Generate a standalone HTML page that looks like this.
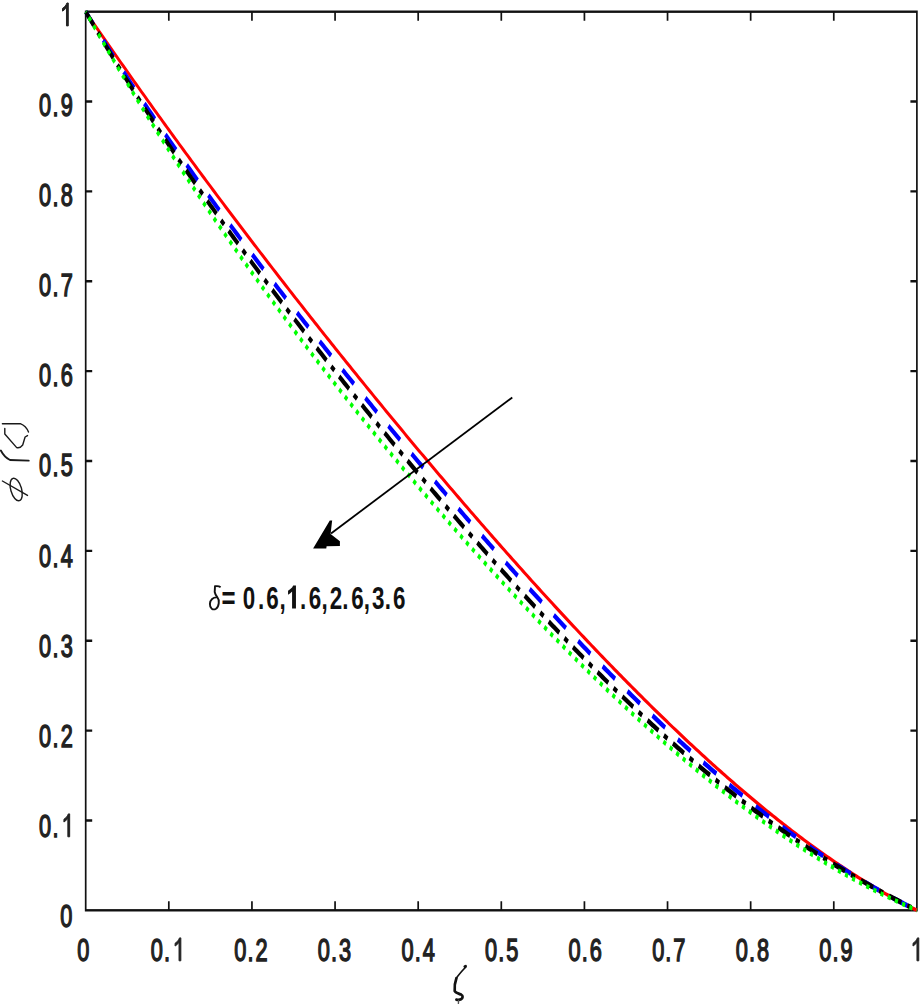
<!DOCTYPE html>
<html><head><meta charset="utf-8"><style>
html,body{margin:0;padding:0;background:#fff;width:921px;height:1004px;overflow:hidden}
svg{display:block}
text{font-family:"Liberation Sans", sans-serif;}
</style></head><body>
<svg width="921" height="1004" viewBox="0 0 921 1004">
<rect width="921" height="1004" fill="#fff"/>
<g transform="scale(0.71,1)">
<g fill="none" stroke="#111" stroke-width="2.4">
<rect x="120.70" y="11.7" width="1170.70" height="898.60"/>
<path d="M237.77,910.3 V901.3 M237.77,11.7 V20.7 M120.70,820.44 h9.15 M1291.41,820.44 h-9.15 M354.85,910.3 V901.3 M354.85,11.7 V20.7 M120.70,730.58 h9.15 M1291.41,730.58 h-9.15 M471.92,910.3 V901.3 M471.92,11.7 V20.7 M120.70,640.72 h9.15 M1291.41,640.72 h-9.15 M588.99,910.3 V901.3 M588.99,11.7 V20.7 M120.70,550.86 h9.15 M1291.41,550.86 h-9.15 M706.06,910.3 V901.3 M706.06,11.7 V20.7 M120.70,461.00 h9.15 M1291.41,461.00 h-9.15 M823.13,910.3 V901.3 M823.13,11.7 V20.7 M120.70,371.14 h9.15 M1291.41,371.14 h-9.15 M940.20,910.3 V901.3 M940.20,11.7 V20.7 M120.70,281.28 h9.15 M1291.41,281.28 h-9.15 M1057.27,910.3 V901.3 M1057.27,11.7 V20.7 M120.70,191.42 h9.15 M1291.41,191.42 h-9.15 M1174.34,910.3 V901.3 M1174.34,11.7 V20.7 M120.70,101.56 h9.15 M1291.41,101.56 h-9.15"/>
</g>
<g fill="none" stroke-linejoin="round">
<path d="M120.70,11.70 L123.64,14.75 L126.57,17.80 L129.51,20.84 L132.44,23.88 L135.37,26.91 L138.31,29.94 L141.24,32.96 L144.18,35.98 L147.11,38.99 L150.05,42.00 L152.98,45.00 L155.91,48.00 L158.85,51.00 L161.78,53.98 L164.72,56.97 L167.65,59.95 L170.58,62.92 L173.52,65.89 L176.45,68.86 L179.39,71.82 L182.32,74.77 L185.25,77.73 L188.19,80.67 L191.12,83.62 L194.06,86.55 L196.99,89.49 L199.92,92.42 L202.86,95.34 L205.79,98.26 L208.73,101.18 L211.66,104.09 L214.60,107.00 L217.53,109.91 L220.46,112.81 L223.40,115.70 L226.33,118.59 L229.27,121.48 L232.20,124.36 L235.13,127.24 L238.07,130.12 L241.00,132.99 L243.94,135.86 L246.87,138.72 L249.80,141.58 L252.74,144.44 L255.67,147.29 L258.61,150.14 L261.54,152.98 L264.47,155.82 L267.41,158.66 L270.34,161.49 L273.28,164.32 L276.21,167.14 L279.15,169.96 L282.08,172.78 L285.01,175.60 L287.95,178.41 L290.88,181.21 L293.82,184.02 L296.75,186.82 L299.68,189.61 L302.62,192.41 L305.55,195.19 L308.49,197.98 L311.42,200.76 L314.35,203.54 L317.29,206.32 L320.22,209.09 L323.16,211.86 L326.09,214.62 L329.03,217.38 L331.96,220.14 L334.89,222.89 L337.83,225.65 L340.76,228.39 L343.70,231.14 L346.63,233.88 L349.56,236.62 L352.50,239.35 L355.43,242.08 L358.37,244.81 L361.30,247.54 L364.23,250.26 L367.17,252.98 L370.10,255.69 L373.04,258.40 L375.97,261.11 L378.90,263.82 L381.84,266.52 L384.77,269.22 L387.71,271.92 L390.64,274.61 L393.58,277.30 L396.51,279.99 L399.44,282.67 L402.38,285.35 L405.31,288.03 L408.25,290.71 L411.18,293.38 L414.11,296.05 L417.05,298.71 L419.98,301.37 L422.92,304.03 L425.85,306.69 L428.78,309.34 L431.72,311.99 L434.65,314.64 L437.59,317.29 L440.52,319.93 L443.45,322.57 L446.39,325.20 L449.32,327.84 L452.26,330.47 L455.19,333.09 L458.13,335.72 L461.06,338.34 L463.99,340.95 L466.93,343.57 L469.86,346.18 L472.80,348.79 L475.73,351.40 L478.66,354.00 L481.60,356.60 L484.53,359.20 L487.47,361.79 L490.40,364.38 L493.33,366.97 L496.27,369.56 L499.20,372.14 L502.14,374.72 L505.07,377.30 L508.00,379.87 L510.94,382.44 L513.87,385.01 L516.81,387.58 L519.74,390.14 L522.68,392.70 L525.61,395.26 L528.54,397.81 L531.48,400.36 L534.41,402.91 L537.35,405.45 L540.28,407.99 L543.21,410.53 L546.15,413.07 L549.08,415.60 L552.02,418.13 L554.95,420.66 L557.88,423.19 L560.82,425.71 L563.75,428.23 L566.69,430.74 L569.62,433.25 L572.55,435.76 L575.49,438.27 L578.42,440.77 L581.36,443.27 L584.29,445.77 L587.23,448.27 L590.16,450.76 L593.09,453.25 L596.03,455.73 L598.96,458.21 L601.90,460.69 L604.83,463.17 L607.76,465.64 L610.70,468.11 L613.63,470.58 L616.57,473.04 L619.50,475.51 L622.43,477.96 L625.37,480.42 L628.30,482.87 L631.24,485.32 L634.17,487.76 L637.11,490.21 L640.04,492.65 L642.97,495.08 L645.91,497.51 L648.84,499.94 L651.78,502.37 L654.71,504.79 L657.64,507.21 L660.58,509.63 L663.51,512.04 L666.45,514.45 L669.38,516.86 L672.31,519.26 L675.25,521.66 L678.18,524.06 L681.12,526.45 L684.05,528.84 L686.98,531.23 L689.92,533.61 L692.85,535.99 L695.79,538.37 L698.72,540.74 L701.66,543.11 L704.59,545.48 L707.52,547.84 L710.46,550.20 L713.39,552.56 L716.33,554.91 L719.26,557.26 L722.19,559.60 L725.13,561.94 L728.06,564.28 L731.00,566.62 L733.93,568.95 L736.86,571.27 L739.80,573.60 L742.73,575.92 L745.67,578.23 L748.60,580.54 L751.53,582.85 L754.47,585.16 L757.40,587.46 L760.34,589.75 L763.27,592.05 L766.21,594.33 L769.14,596.62 L772.07,598.90 L775.01,601.18 L777.94,603.45 L780.88,605.72 L783.81,607.99 L786.74,610.25 L789.68,612.50 L792.61,614.76 L795.55,617.01 L798.48,619.25 L801.41,621.49 L804.35,623.73 L807.28,625.96 L810.22,628.19 L813.15,630.41 L816.08,632.63 L819.02,634.85 L821.95,637.06 L824.89,639.26 L827.82,641.47 L830.76,643.66 L833.69,645.86 L836.62,648.05 L839.56,650.23 L842.49,652.41 L845.43,654.59 L848.36,656.76 L851.29,658.92 L854.23,661.08 L857.16,663.24 L860.10,665.39 L863.03,667.54 L865.96,669.68 L868.90,671.82 L871.83,673.95 L874.77,676.08 L877.70,678.20 L880.64,680.32 L883.57,682.44 L886.50,684.54 L889.44,686.65 L892.37,688.75 L895.31,690.84 L898.24,692.93 L901.17,695.01 L904.11,697.09 L907.04,699.16 L909.98,701.23 L912.91,703.29 L915.84,705.35 L918.78,707.40 L921.71,709.45 L924.65,711.49 L927.58,713.52 L930.51,715.55 L933.45,717.58 L936.38,719.60 L939.32,721.61 L942.25,723.62 L945.19,725.62 L948.12,727.62 L951.05,729.61 L953.99,731.59 L956.92,733.57 L959.86,735.55 L962.79,737.51 L965.72,739.48 L968.66,741.43 L971.59,743.38 L974.53,745.33 L977.46,747.26 L980.39,749.19 L983.33,751.12 L986.26,753.04 L989.20,754.95 L992.13,756.86 L995.06,758.76 L998.00,760.65 L1000.93,762.54 L1003.87,764.42 L1006.80,766.30 L1009.74,768.17 L1012.67,770.03 L1015.60,771.89 L1018.54,773.73 L1021.47,775.58 L1024.41,777.41 L1027.34,779.24 L1030.27,781.06 L1033.21,782.88 L1036.14,784.69 L1039.08,786.49 L1042.01,788.28 L1044.94,790.07 L1047.88,791.85 L1050.81,793.62 L1053.75,795.39 L1056.68,797.15 L1059.61,798.90 L1062.55,800.65 L1065.48,802.38 L1068.42,804.11 L1071.35,805.84 L1074.29,807.55 L1077.22,809.26 L1080.15,810.96 L1083.09,812.65 L1086.02,814.34 L1088.96,816.01 L1091.89,817.68 L1094.82,819.34 L1097.76,821.00 L1100.69,822.64 L1103.63,824.28 L1106.56,825.91 L1109.49,827.53 L1112.43,829.15 L1115.36,830.75 L1118.30,832.35 L1121.23,833.94 L1124.16,835.52 L1127.10,837.10 L1130.03,838.66 L1132.97,840.22 L1135.90,841.76 L1138.84,843.30 L1141.77,844.83 L1144.70,846.36 L1147.64,847.87 L1150.57,849.38 L1153.51,850.87 L1156.44,852.36 L1159.37,853.84 L1162.31,855.31 L1165.24,856.77 L1168.18,858.22 L1171.11,859.66 L1174.04,861.09 L1176.98,862.52 L1179.91,863.93 L1182.85,865.34 L1185.78,866.73 L1188.72,868.12 L1191.65,869.50 L1194.58,870.87 L1197.52,872.22 L1200.45,873.57 L1203.39,874.91 L1206.32,876.24 L1209.25,877.56 L1212.19,878.87 L1215.12,880.17 L1218.06,881.46 L1220.99,882.74 L1223.92,884.01 L1226.86,885.27 L1229.79,886.52 L1232.73,887.76 L1235.66,888.99 L1238.59,890.20 L1241.53,891.41 L1244.46,892.61 L1247.40,893.80 L1250.33,894.97 L1253.27,896.14 L1256.20,897.29 L1259.13,898.44 L1262.07,899.57 L1265.00,900.70 L1267.94,901.81 L1270.87,902.91 L1273.80,904.00 L1276.74,905.08 L1279.67,906.14 L1282.61,907.20 L1285.54,908.24 L1288.47,909.28 L1291.41,910.30" stroke="#ff0000" stroke-width="3.6"/>
<path d="M120.70,11.70 L123.64,15.12 L126.57,18.52 L129.51,21.91 L132.44,25.29 L135.37,28.66 L138.31,32.01 L141.24,35.35 L144.18,38.68 L147.11,42.00 L150.05,45.31 L152.98,48.60 L155.91,51.88 L158.85,55.15 L161.78,58.42 L164.72,61.66 L167.65,64.90 L170.58,68.13 L173.52,71.35 L176.45,74.56 L179.39,77.75 L182.32,80.94 L185.25,84.11 L188.19,87.28 L191.12,90.44 L194.06,93.58 L196.99,96.72 L199.92,99.85 L202.86,102.96 L205.79,106.07 L208.73,109.17 L211.66,112.26 L214.60,115.34 L217.53,118.41 L220.46,121.48 L223.40,124.53 L226.33,127.58 L229.27,130.62 L232.20,133.65 L235.13,136.67 L238.07,139.68 L241.00,142.68 L243.94,145.68 L246.87,148.67 L249.80,151.65 L252.74,154.63 L255.67,157.59 L258.61,160.55 L261.54,163.50 L264.47,166.45 L267.41,169.39 L270.34,172.32 L273.28,175.24 L276.21,178.16 L279.15,181.06 L282.08,183.97 L285.01,186.86 L287.95,189.75 L290.88,192.64 L293.82,195.51 L296.75,198.38 L299.68,201.25 L302.62,204.10 L305.55,206.96 L308.49,209.80 L311.42,212.64 L314.35,215.47 L317.29,218.30 L320.22,221.12 L323.16,223.94 L326.09,226.75 L329.03,229.56 L331.96,232.36 L334.89,235.15 L337.83,237.94 L340.76,240.72 L343.70,243.50 L346.63,246.28 L349.56,249.04 L352.50,251.81 L355.43,254.57 L358.37,257.32 L361.30,260.07 L364.23,262.81 L367.17,265.55 L370.10,268.28 L373.04,271.01 L375.97,273.74 L378.90,276.46 L381.84,279.18 L384.77,281.89 L387.71,284.59 L390.64,287.30 L393.58,289.99 L396.51,292.69 L399.44,295.38 L402.38,298.06 L405.31,300.75 L408.25,303.42 L411.18,306.10 L414.11,308.77 L417.05,311.43 L419.98,314.09 L422.92,316.75 L425.85,319.40 L428.78,322.05 L431.72,324.70 L434.65,327.34 L437.59,329.98 L440.52,332.61 L443.45,335.25 L446.39,337.87 L449.32,340.50 L452.26,343.12 L455.19,345.73 L458.13,348.35 L461.06,350.96 L463.99,353.56 L466.93,356.16 L469.86,358.76 L472.80,361.36 L475.73,363.95 L478.66,366.54 L481.60,369.13 L484.53,371.71 L487.47,374.29 L490.40,376.86 L493.33,379.43 L496.27,382.00 L499.20,384.57 L502.14,387.13 L505.07,389.69 L508.00,392.25 L510.94,394.80 L513.87,397.35 L516.81,399.90 L519.74,402.44 L522.68,404.98 L525.61,407.52 L528.54,410.05 L531.48,412.58 L534.41,415.11 L537.35,417.64 L540.28,420.16 L543.21,422.68 L546.15,425.19 L549.08,427.70 L552.02,430.21 L554.95,432.72 L557.88,435.22 L560.82,437.72 L563.75,440.22 L566.69,442.71 L569.62,445.20 L572.55,447.69 L575.49,450.18 L578.42,452.66 L581.36,455.14 L584.29,457.61 L587.23,460.08 L590.16,462.55 L593.09,465.02 L596.03,467.48 L598.96,469.94 L601.90,472.40 L604.83,474.85 L607.76,477.30 L610.70,479.75 L613.63,482.20 L616.57,484.64 L619.50,487.07 L622.43,489.51 L625.37,491.94 L628.30,494.37 L631.24,496.79 L634.17,499.22 L637.11,501.64 L640.04,504.05 L642.97,506.46 L645.91,508.87 L648.84,511.28 L651.78,513.68 L654.71,516.08 L657.64,518.48 L660.58,520.87 L663.51,523.26 L666.45,525.64 L669.38,528.02 L672.31,530.40 L675.25,532.78 L678.18,535.15 L681.12,537.52 L684.05,539.88 L686.98,542.25 L689.92,544.60 L692.85,546.96 L695.79,549.31 L698.72,551.66 L701.66,554.00 L704.59,556.34 L707.52,558.68 L710.46,561.01 L713.39,563.34 L716.33,565.66 L719.26,567.98 L722.19,570.30 L725.13,572.62 L728.06,574.93 L731.00,577.23 L733.93,579.53 L736.86,581.83 L739.80,584.13 L742.73,586.42 L745.67,588.70 L748.60,590.98 L751.53,593.26 L754.47,595.54 L757.40,597.81 L760.34,600.07 L763.27,602.34 L766.21,604.59 L769.14,606.85 L772.07,609.10 L775.01,611.34 L777.94,613.58 L780.88,615.82 L783.81,618.05 L786.74,620.28 L789.68,622.50 L792.61,624.72 L795.55,626.93 L798.48,629.14 L801.41,631.35 L804.35,633.55 L807.28,635.74 L810.22,637.93 L813.15,640.12 L816.08,642.30 L819.02,644.48 L821.95,646.65 L824.89,648.82 L827.82,650.98 L830.76,653.14 L833.69,655.29 L836.62,657.44 L839.56,659.58 L842.49,661.72 L845.43,663.85 L848.36,665.98 L851.29,668.10 L854.23,670.22 L857.16,672.33 L860.10,674.44 L863.03,676.54 L865.96,678.64 L868.90,680.73 L871.83,682.82 L874.77,684.90 L877.70,686.97 L880.64,689.04 L883.57,691.11 L886.50,693.17 L889.44,695.22 L892.37,697.27 L895.31,699.31 L898.24,701.34 L901.17,703.37 L904.11,705.40 L907.04,707.42 L909.98,709.43 L912.91,711.44 L915.84,713.44 L918.78,715.43 L921.71,717.42 L924.65,719.41 L927.58,721.39 L930.51,723.36 L933.45,725.32 L936.38,727.28 L939.32,729.23 L942.25,731.18 L945.19,733.12 L948.12,735.06 L951.05,736.98 L953.99,738.91 L956.92,740.82 L959.86,742.73 L962.79,744.63 L965.72,746.53 L968.66,748.42 L971.59,750.30 L974.53,752.18 L977.46,754.05 L980.39,755.91 L983.33,757.77 L986.26,759.62 L989.20,761.46 L992.13,763.30 L995.06,765.13 L998.00,766.95 L1000.93,768.77 L1003.87,770.57 L1006.80,772.38 L1009.74,774.17 L1012.67,775.96 L1015.60,777.74 L1018.54,779.52 L1021.47,781.28 L1024.41,783.04 L1027.34,784.79 L1030.27,786.54 L1033.21,788.28 L1036.14,790.01 L1039.08,791.73 L1042.01,793.45 L1044.94,795.16 L1047.88,796.86 L1050.81,798.56 L1053.75,800.24 L1056.68,801.92 L1059.61,803.59 L1062.55,805.26 L1065.48,806.92 L1068.42,808.57 L1071.35,810.21 L1074.29,811.84 L1077.22,813.47 L1080.15,815.09 L1083.09,816.70 L1086.02,818.30 L1088.96,819.90 L1091.89,821.49 L1094.82,823.07 L1097.76,824.64 L1100.69,826.20 L1103.63,827.76 L1106.56,829.31 L1109.49,830.85 L1112.43,832.38 L1115.36,833.91 L1118.30,835.43 L1121.23,836.93 L1124.16,838.44 L1127.10,839.93 L1130.03,841.41 L1132.97,842.89 L1135.90,844.36 L1138.84,845.82 L1141.77,847.27 L1144.70,848.72 L1147.64,850.15 L1150.57,851.58 L1153.51,853.00 L1156.44,854.42 L1159.37,855.82 L1162.31,857.21 L1165.24,858.60 L1168.18,859.98 L1171.11,861.35 L1174.04,862.71 L1176.98,864.07 L1179.91,865.41 L1182.85,866.75 L1185.78,868.08 L1188.72,869.40 L1191.65,870.71 L1194.58,872.01 L1197.52,873.31 L1200.45,874.60 L1203.39,875.88 L1206.32,877.15 L1209.25,878.41 L1212.19,879.66 L1215.12,880.91 L1218.06,882.14 L1220.99,883.37 L1223.92,884.59 L1226.86,885.80 L1229.79,887.00 L1232.73,888.20 L1235.66,889.38 L1238.59,890.56 L1241.53,891.73 L1244.46,892.89 L1247.40,894.04 L1250.33,895.18 L1253.27,896.32 L1256.20,897.44 L1259.13,898.56 L1262.07,899.67 L1265.00,900.77 L1267.94,901.86 L1270.87,902.95 L1273.80,904.02 L1276.74,905.09 L1279.67,906.15 L1282.61,907.20 L1285.54,908.24 L1288.47,909.28 L1291.41,910.30" stroke="#0000ff" stroke-width="5.0" stroke-dasharray="21.5 21.370" stroke-dashoffset="5.120"/>
<path d="M120.70,11.70 L123.64,15.30 L126.57,18.88 L129.51,22.45 L132.44,26.01 L135.37,29.54 L138.31,33.07 L141.24,36.57 L144.18,40.07 L147.11,43.55 L150.05,47.01 L152.98,50.46 L155.91,53.90 L158.85,57.32 L161.78,60.73 L164.72,64.13 L167.65,67.51 L170.58,70.88 L173.52,74.24 L176.45,77.58 L179.39,80.92 L182.32,84.24 L185.25,87.54 L188.19,90.84 L191.12,94.12 L194.06,97.39 L196.99,100.66 L199.92,103.90 L202.86,107.14 L205.79,110.37 L208.73,113.59 L211.66,116.79 L214.60,119.98 L217.53,123.17 L220.46,126.34 L223.40,129.51 L226.33,132.66 L229.27,135.80 L232.20,138.94 L235.13,142.06 L238.07,145.17 L241.00,148.28 L243.94,151.37 L246.87,154.46 L249.80,157.54 L252.74,160.61 L255.67,163.67 L258.61,166.72 L261.54,169.76 L264.47,172.79 L267.41,175.82 L270.34,178.83 L273.28,181.84 L276.21,184.84 L279.15,187.84 L282.08,190.82 L285.01,193.80 L287.95,196.77 L290.88,199.73 L293.82,202.69 L296.75,205.64 L299.68,208.58 L302.62,211.51 L305.55,214.44 L308.49,217.36 L311.42,220.27 L314.35,223.17 L317.29,226.07 L320.22,228.97 L323.16,231.85 L326.09,234.73 L329.03,237.61 L331.96,240.47 L334.89,243.33 L337.83,246.19 L340.76,249.04 L343.70,251.88 L346.63,254.72 L349.56,257.55 L352.50,260.38 L355.43,263.20 L358.37,266.01 L361.30,268.82 L364.23,271.62 L367.17,274.42 L370.10,277.21 L373.04,280.00 L375.97,282.78 L378.90,285.56 L381.84,288.33 L384.77,291.10 L387.71,293.86 L390.64,296.62 L393.58,299.37 L396.51,302.12 L399.44,304.86 L402.38,307.60 L405.31,310.34 L408.25,313.07 L411.18,315.79 L414.11,318.51 L417.05,321.22 L419.98,323.94 L422.92,326.64 L425.85,329.34 L428.78,332.04 L431.72,334.74 L434.65,337.43 L437.59,340.11 L440.52,342.79 L443.45,345.47 L446.39,348.14 L449.32,350.81 L452.26,353.47 L455.19,356.14 L458.13,358.79 L461.06,361.44 L463.99,364.09 L466.93,366.74 L469.86,369.38 L472.80,372.02 L475.73,374.65 L478.66,377.28 L481.60,379.90 L484.53,382.53 L487.47,385.14 L490.40,387.76 L493.33,390.37 L496.27,392.98 L499.20,395.58 L502.14,398.18 L505.07,400.77 L508.00,403.37 L510.94,405.95 L513.87,408.54 L516.81,411.12 L519.74,413.70 L522.68,416.27 L525.61,418.84 L528.54,421.41 L531.48,423.97 L534.41,426.53 L537.35,429.09 L540.28,431.64 L543.21,434.19 L546.15,436.73 L549.08,439.28 L552.02,441.81 L554.95,444.35 L557.88,446.88 L560.82,449.41 L563.75,451.93 L566.69,454.45 L569.62,456.97 L572.55,459.48 L575.49,461.99 L578.42,464.49 L581.36,467.00 L584.29,469.49 L587.23,471.99 L590.16,474.48 L593.09,476.97 L596.03,479.45 L598.96,481.93 L601.90,484.41 L604.83,486.88 L607.76,489.35 L610.70,491.81 L613.63,494.27 L616.57,496.73 L619.50,499.18 L622.43,501.63 L625.37,504.08 L628.30,506.52 L631.24,508.96 L634.17,511.40 L637.11,513.83 L640.04,516.25 L642.97,518.67 L645.91,521.09 L648.84,523.51 L651.78,525.92 L654.71,528.32 L657.64,530.73 L660.58,533.13 L663.51,535.52 L666.45,537.91 L669.38,540.30 L672.31,542.68 L675.25,545.06 L678.18,547.43 L681.12,549.80 L684.05,552.16 L686.98,554.52 L689.92,556.88 L692.85,559.23 L695.79,561.58 L698.72,563.92 L701.66,566.26 L704.59,568.60 L707.52,570.93 L710.46,573.25 L713.39,575.57 L716.33,577.89 L719.26,580.20 L722.19,582.51 L725.13,584.81 L728.06,587.11 L731.00,589.40 L733.93,591.69 L736.86,593.97 L739.80,596.25 L742.73,598.52 L745.67,600.79 L748.60,603.05 L751.53,605.31 L754.47,607.57 L757.40,609.82 L760.34,612.06 L763.27,614.30 L766.21,616.53 L769.14,618.76 L772.07,620.98 L775.01,623.20 L777.94,625.41 L780.88,627.62 L783.81,629.82 L786.74,632.02 L789.68,634.21 L792.61,636.40 L795.55,638.58 L798.48,640.75 L801.41,642.92 L804.35,645.09 L807.28,647.24 L810.22,649.40 L813.15,651.54 L816.08,653.69 L819.02,655.82 L821.95,657.95 L824.89,660.07 L827.82,662.19 L830.76,664.31 L833.69,666.41 L836.62,668.51 L839.56,670.61 L842.49,672.70 L845.43,674.78 L848.36,676.86 L851.29,678.93 L854.23,680.99 L857.16,683.05 L860.10,685.10 L863.03,687.15 L865.96,689.19 L868.90,691.22 L871.83,693.25 L874.77,695.27 L877.70,697.28 L880.64,699.29 L883.57,701.29 L886.50,703.28 L889.44,705.27 L892.37,707.25 L895.31,709.23 L898.24,711.20 L901.17,713.16 L904.11,715.12 L907.04,717.06 L909.98,719.01 L912.91,720.94 L915.84,722.87 L918.78,724.79 L921.71,726.71 L924.65,728.62 L927.58,730.52 L930.51,732.41 L933.45,734.30 L936.38,736.18 L939.32,738.05 L942.25,739.92 L945.19,741.78 L948.12,743.63 L951.05,745.48 L953.99,747.31 L956.92,749.15 L959.86,750.97 L962.79,752.79 L965.72,754.60 L968.66,756.40 L971.59,758.19 L974.53,759.98 L977.46,761.76 L980.39,763.54 L983.33,765.30 L986.26,767.06 L989.20,768.81 L992.13,770.56 L995.06,772.29 L998.00,774.02 L1000.93,775.74 L1003.87,777.46 L1006.80,779.17 L1009.74,780.87 L1012.67,782.56 L1015.60,784.24 L1018.54,785.92 L1021.47,787.59 L1024.41,789.25 L1027.34,790.91 L1030.27,792.55 L1033.21,794.19 L1036.14,795.83 L1039.08,797.45 L1042.01,799.07 L1044.94,800.68 L1047.88,802.28 L1050.81,803.87 L1053.75,805.46 L1056.68,807.04 L1059.61,808.61 L1062.55,810.18 L1065.48,811.73 L1068.42,813.28 L1071.35,814.83 L1074.29,816.36 L1077.22,817.89 L1080.15,819.40 L1083.09,820.92 L1086.02,822.42 L1088.96,823.92 L1091.89,825.41 L1094.82,826.89 L1097.76,828.36 L1100.69,829.83 L1103.63,831.29 L1106.56,832.74 L1109.49,834.18 L1112.43,835.62 L1115.36,837.05 L1118.30,838.47 L1121.23,839.88 L1124.16,841.29 L1127.10,842.69 L1130.03,844.08 L1132.97,845.46 L1135.90,846.84 L1138.84,848.21 L1141.77,849.57 L1144.70,850.93 L1147.64,852.28 L1150.57,853.62 L1153.51,854.95 L1156.44,856.28 L1159.37,857.60 L1162.31,858.91 L1165.24,860.22 L1168.18,861.52 L1171.11,862.81 L1174.04,864.09 L1176.98,865.37 L1179.91,866.64 L1182.85,867.90 L1185.78,869.16 L1188.72,870.41 L1191.65,871.65 L1194.58,872.89 L1197.52,874.12 L1200.45,875.35 L1203.39,876.56 L1206.32,877.77 L1209.25,878.98 L1212.19,880.17 L1215.12,881.37 L1218.06,882.55 L1220.99,883.73 L1223.92,884.90 L1226.86,886.07 L1229.79,887.23 L1232.73,888.38 L1235.66,889.53 L1238.59,890.67 L1241.53,891.81 L1244.46,892.94 L1247.40,894.07 L1250.33,895.19 L1253.27,896.30 L1256.20,897.41 L1259.13,898.51 L1262.07,899.61 L1265.00,900.70 L1267.94,901.79 L1270.87,902.87 L1273.80,903.94 L1276.74,905.02 L1279.67,906.08 L1282.61,907.14 L1285.54,908.20 L1288.47,909.25 L1291.41,910.30" stroke="#000" stroke-width="5.0" stroke-dasharray="18.5 9.070 6.0 9.070" stroke-dashoffset="0.730"/>
<path d="M120.70,11.70 L123.64,15.41 L126.57,19.10 L129.51,22.78 L132.44,26.44 L135.37,30.10 L138.31,33.74 L141.24,37.36 L144.18,40.98 L147.11,44.58 L150.05,48.16 L152.98,51.74 L155.91,55.30 L158.85,58.85 L161.78,62.39 L164.72,65.91 L167.65,69.42 L170.58,72.92 L173.52,76.41 L176.45,79.89 L179.39,83.36 L182.32,86.81 L185.25,90.25 L188.19,93.68 L191.12,97.10 L194.06,100.51 L196.99,103.91 L199.92,107.29 L202.86,110.67 L205.79,114.03 L208.73,117.39 L211.66,120.73 L214.60,124.06 L217.53,127.38 L220.46,130.70 L223.40,134.00 L226.33,137.29 L229.27,140.57 L232.20,143.84 L235.13,147.10 L238.07,150.35 L241.00,153.60 L243.94,156.83 L246.87,160.05 L249.80,163.26 L252.74,166.47 L255.67,169.66 L258.61,172.85 L261.54,176.02 L264.47,179.19 L267.41,182.35 L270.34,185.50 L273.28,188.64 L276.21,191.77 L279.15,194.89 L282.08,198.01 L285.01,201.11 L287.95,204.21 L290.88,207.30 L293.82,210.38 L296.75,213.45 L299.68,216.51 L302.62,219.57 L305.55,222.62 L308.49,225.66 L311.42,228.69 L314.35,231.71 L317.29,234.73 L320.22,237.74 L323.16,240.74 L326.09,243.73 L329.03,246.71 L331.96,249.69 L334.89,252.66 L337.83,255.63 L340.76,258.58 L343.70,261.53 L346.63,264.47 L349.56,267.41 L352.50,270.33 L355.43,273.25 L358.37,276.17 L361.30,279.07 L364.23,281.97 L367.17,284.86 L370.10,287.75 L373.04,290.63 L375.97,293.50 L378.90,296.36 L381.84,299.22 L384.77,302.08 L387.71,304.92 L390.64,307.76 L393.58,310.59 L396.51,313.42 L399.44,316.24 L402.38,319.05 L405.31,321.86 L408.25,324.66 L411.18,327.46 L414.11,330.25 L417.05,333.03 L419.98,335.81 L422.92,338.58 L425.85,341.34 L428.78,344.10 L431.72,346.85 L434.65,349.60 L437.59,352.34 L440.52,355.08 L443.45,357.81 L446.39,360.53 L449.32,363.25 L452.26,365.96 L455.19,368.67 L458.13,371.37 L461.06,374.07 L463.99,376.76 L466.93,379.44 L469.86,382.12 L472.80,384.79 L475.73,387.46 L478.66,390.12 L481.60,392.78 L484.53,395.43 L487.47,398.08 L490.40,400.72 L493.33,403.36 L496.27,405.99 L499.20,408.61 L502.14,411.23 L505.07,413.85 L508.00,416.46 L510.94,419.06 L513.87,421.66 L516.81,424.25 L519.74,426.84 L522.68,429.43 L525.61,432.01 L528.54,434.58 L531.48,437.15 L534.41,439.71 L537.35,442.27 L540.28,444.82 L543.21,447.37 L546.15,449.91 L549.08,452.45 L552.02,454.99 L554.95,457.51 L557.88,460.04 L560.82,462.56 L563.75,465.07 L566.69,467.58 L569.62,470.08 L572.55,472.58 L575.49,475.07 L578.42,477.56 L581.36,480.05 L584.29,482.53 L587.23,485.00 L590.16,487.47 L593.09,489.93 L596.03,492.39 L598.96,494.85 L601.90,497.30 L604.83,499.74 L607.76,502.18 L610.70,504.62 L613.63,507.05 L616.57,509.47 L619.50,511.89 L622.43,514.31 L625.37,516.72 L628.30,519.13 L631.24,521.53 L634.17,523.93 L637.11,526.32 L640.04,528.70 L642.97,531.09 L645.91,533.46 L648.84,535.83 L651.78,538.20 L654.71,540.56 L657.64,542.92 L660.58,545.27 L663.51,547.62 L666.45,549.96 L669.38,552.30 L672.31,554.64 L675.25,556.96 L678.18,559.29 L681.12,561.60 L684.05,563.92 L686.98,566.23 L689.92,568.53 L692.85,570.83 L695.79,573.12 L698.72,575.41 L701.66,577.69 L704.59,579.97 L707.52,582.25 L710.46,584.51 L713.39,586.78 L716.33,589.04 L719.26,591.29 L722.19,593.54 L725.13,595.78 L728.06,598.02 L731.00,600.25 L733.93,602.48 L736.86,604.70 L739.80,606.92 L742.73,609.13 L745.67,611.34 L748.60,613.54 L751.53,615.74 L754.47,617.93 L757.40,620.12 L760.34,622.30 L763.27,624.48 L766.21,626.65 L769.14,628.81 L772.07,630.97 L775.01,633.13 L777.94,635.28 L780.88,637.42 L783.81,639.56 L786.74,641.69 L789.68,643.82 L792.61,645.94 L795.55,648.06 L798.48,650.17 L801.41,652.28 L804.35,654.38 L807.28,656.48 L810.22,658.57 L813.15,660.65 L816.08,662.73 L819.02,664.80 L821.95,666.87 L824.89,668.93 L827.82,670.99 L830.76,673.04 L833.69,675.08 L836.62,677.12 L839.56,679.15 L842.49,681.18 L845.43,683.20 L848.36,685.22 L851.29,687.23 L854.23,689.23 L857.16,691.23 L860.10,693.23 L863.03,695.21 L865.96,697.19 L868.90,699.17 L871.83,701.14 L874.77,703.10 L877.70,705.06 L880.64,707.01 L883.57,708.95 L886.50,710.89 L889.44,712.82 L892.37,714.75 L895.31,716.67 L898.24,718.58 L901.17,720.49 L904.11,722.39 L907.04,724.29 L909.98,726.18 L912.91,728.06 L915.84,729.94 L918.78,731.81 L921.71,733.67 L924.65,735.53 L927.58,737.38 L930.51,739.23 L933.45,741.07 L936.38,742.90 L939.32,744.72 L942.25,746.54 L945.19,748.36 L948.12,750.16 L951.05,751.96 L953.99,753.75 L956.92,755.54 L959.86,757.32 L962.79,759.09 L965.72,760.86 L968.66,762.62 L971.59,764.37 L974.53,766.12 L977.46,767.85 L980.39,769.59 L983.33,771.31 L986.26,773.03 L989.20,774.74 L992.13,776.45 L995.06,778.14 L998.00,779.83 L1000.93,781.52 L1003.87,783.20 L1006.80,784.87 L1009.74,786.53 L1012.67,788.18 L1015.60,789.83 L1018.54,791.47 L1021.47,793.11 L1024.41,794.73 L1027.34,796.35 L1030.27,797.97 L1033.21,799.57 L1036.14,801.17 L1039.08,802.76 L1042.01,804.35 L1044.94,805.92 L1047.88,807.49 L1050.81,809.05 L1053.75,810.61 L1056.68,812.15 L1059.61,813.69 L1062.55,815.22 L1065.48,816.75 L1068.42,818.27 L1071.35,819.77 L1074.29,821.28 L1077.22,822.77 L1080.15,824.26 L1083.09,825.74 L1086.02,827.21 L1088.96,828.67 L1091.89,830.13 L1094.82,831.58 L1097.76,833.02 L1100.69,834.45 L1103.63,835.88 L1106.56,837.29 L1109.49,838.70 L1112.43,840.11 L1115.36,841.50 L1118.30,842.89 L1121.23,844.26 L1124.16,845.64 L1127.10,847.00 L1130.03,848.35 L1132.97,849.70 L1135.90,851.04 L1138.84,852.37 L1141.77,853.69 L1144.70,855.01 L1147.64,856.32 L1150.57,857.61 L1153.51,858.91 L1156.44,860.19 L1159.37,861.46 L1162.31,862.73 L1165.24,863.99 L1168.18,865.24 L1171.11,866.48 L1174.04,867.72 L1176.98,868.94 L1179.91,870.16 L1182.85,871.37 L1185.78,872.57 L1188.72,873.77 L1191.65,874.95 L1194.58,876.13 L1197.52,877.30 L1200.45,878.46 L1203.39,879.61 L1206.32,880.76 L1209.25,881.89 L1212.19,883.02 L1215.12,884.14 L1218.06,885.25 L1220.99,886.35 L1223.92,887.45 L1226.86,888.53 L1229.79,889.61 L1232.73,890.68 L1235.66,891.74 L1238.59,892.79 L1241.53,893.84 L1244.46,894.87 L1247.40,895.90 L1250.33,896.92 L1253.27,897.93 L1256.20,898.93 L1259.13,899.92 L1262.07,900.91 L1265.00,901.89 L1267.94,902.86 L1270.87,903.82 L1273.80,904.77 L1276.74,905.71 L1279.67,906.65 L1282.61,907.57 L1285.54,908.49 L1288.47,909.40 L1291.41,910.30" stroke="#00ff00" stroke-width="4.6" stroke-dasharray="4.5 6.192" stroke-dashoffset="-7.054"/>
</g>
</g>
<g>
<text transform="translate(66.40,926.90) scale(0.68,1)" text-anchor="middle" font-size="32.0" font-weight="normal" fill="#222" stroke="#222" stroke-width="1.47">0</text>
<text transform="translate(45.00,836.80) scale(0.68,1)" text-anchor="middle" font-size="32.0" font-weight="normal" fill="#222" stroke="#222" stroke-width="1.47">0</text>
<text transform="translate(55.40,836.80) scale(0.68,1)" text-anchor="middle" font-size="32.0" font-weight="normal" fill="#222" stroke="#222" stroke-width="1.47">.</text>
<path d="M69.67,836.80 L69.67,813.89 L68.34,813.89 L67.43,815.84 L65.91,817.76 L63.93,819.26 L63.93,822.02 L65.69,820.80 L67.10,819.26 L67.87,818.24 L67.87,836.80 Z" fill="#222" stroke="#222" stroke-width="1.0" stroke-linejoin="round"/>
<text transform="translate(45.00,746.70) scale(0.68,1)" text-anchor="middle" font-size="32.0" font-weight="normal" fill="#222" stroke="#222" stroke-width="1.47">0</text>
<text transform="translate(55.40,746.70) scale(0.68,1)" text-anchor="middle" font-size="32.0" font-weight="normal" fill="#222" stroke="#222" stroke-width="1.47">.</text>
<text transform="translate(66.80,746.70) scale(0.68,1)" text-anchor="middle" font-size="32.0" font-weight="normal" fill="#222" stroke="#222" stroke-width="1.47">2</text>
<text transform="translate(45.00,656.60) scale(0.68,1)" text-anchor="middle" font-size="32.0" font-weight="normal" fill="#222" stroke="#222" stroke-width="1.47">0</text>
<text transform="translate(55.40,656.60) scale(0.68,1)" text-anchor="middle" font-size="32.0" font-weight="normal" fill="#222" stroke="#222" stroke-width="1.47">.</text>
<text transform="translate(66.80,656.60) scale(0.68,1)" text-anchor="middle" font-size="32.0" font-weight="normal" fill="#222" stroke="#222" stroke-width="1.47">3</text>
<text transform="translate(45.00,566.50) scale(0.68,1)" text-anchor="middle" font-size="32.0" font-weight="normal" fill="#222" stroke="#222" stroke-width="1.47">0</text>
<text transform="translate(55.40,566.50) scale(0.68,1)" text-anchor="middle" font-size="32.0" font-weight="normal" fill="#222" stroke="#222" stroke-width="1.47">.</text>
<text transform="translate(66.80,566.50) scale(0.68,1)" text-anchor="middle" font-size="32.0" font-weight="normal" fill="#222" stroke="#222" stroke-width="1.47">4</text>
<text transform="translate(45.00,476.40) scale(0.68,1)" text-anchor="middle" font-size="32.0" font-weight="normal" fill="#222" stroke="#222" stroke-width="1.47">0</text>
<text transform="translate(55.40,476.40) scale(0.68,1)" text-anchor="middle" font-size="32.0" font-weight="normal" fill="#222" stroke="#222" stroke-width="1.47">.</text>
<text transform="translate(66.80,476.40) scale(0.68,1)" text-anchor="middle" font-size="32.0" font-weight="normal" fill="#222" stroke="#222" stroke-width="1.47">5</text>
<text transform="translate(45.00,386.30) scale(0.68,1)" text-anchor="middle" font-size="32.0" font-weight="normal" fill="#222" stroke="#222" stroke-width="1.47">0</text>
<text transform="translate(55.40,386.30) scale(0.68,1)" text-anchor="middle" font-size="32.0" font-weight="normal" fill="#222" stroke="#222" stroke-width="1.47">.</text>
<text transform="translate(66.80,386.30) scale(0.68,1)" text-anchor="middle" font-size="32.0" font-weight="normal" fill="#222" stroke="#222" stroke-width="1.47">6</text>
<text transform="translate(45.00,296.20) scale(0.68,1)" text-anchor="middle" font-size="32.0" font-weight="normal" fill="#222" stroke="#222" stroke-width="1.47">0</text>
<text transform="translate(55.40,296.20) scale(0.68,1)" text-anchor="middle" font-size="32.0" font-weight="normal" fill="#222" stroke="#222" stroke-width="1.47">.</text>
<text transform="translate(66.80,296.20) scale(0.68,1)" text-anchor="middle" font-size="32.0" font-weight="normal" fill="#222" stroke="#222" stroke-width="1.47">7</text>
<text transform="translate(45.00,206.10) scale(0.68,1)" text-anchor="middle" font-size="32.0" font-weight="normal" fill="#222" stroke="#222" stroke-width="1.47">0</text>
<text transform="translate(55.40,206.10) scale(0.68,1)" text-anchor="middle" font-size="32.0" font-weight="normal" fill="#222" stroke="#222" stroke-width="1.47">.</text>
<text transform="translate(66.80,206.10) scale(0.68,1)" text-anchor="middle" font-size="32.0" font-weight="normal" fill="#222" stroke="#222" stroke-width="1.47">8</text>
<text transform="translate(45.00,116.00) scale(0.68,1)" text-anchor="middle" font-size="32.0" font-weight="normal" fill="#222" stroke="#222" stroke-width="1.47">0</text>
<text transform="translate(55.40,116.00) scale(0.68,1)" text-anchor="middle" font-size="32.0" font-weight="normal" fill="#222" stroke="#222" stroke-width="1.47">.</text>
<text transform="translate(66.80,116.00) scale(0.68,1)" text-anchor="middle" font-size="32.0" font-weight="normal" fill="#222" stroke="#222" stroke-width="1.47">9</text>
<path d="M68.27,25.90 L68.27,2.99 L66.94,2.99 L66.03,4.94 L64.51,6.86 L62.53,8.36 L62.53,11.12 L64.29,9.90 L65.70,8.36 L66.47,7.34 L66.47,25.90 Z" fill="#222" stroke="#222" stroke-width="1.0" stroke-linejoin="round"/>
<text transform="translate(83.40,960.80) scale(0.68,1)" text-anchor="middle" font-size="32.0" font-weight="normal" fill="#222" stroke="#222" stroke-width="1.47">0</text>
<text transform="translate(156.77,960.80) scale(0.68,1)" text-anchor="middle" font-size="32.0" font-weight="normal" fill="#222" stroke="#222" stroke-width="1.47">0</text>
<text transform="translate(166.97,960.80) scale(0.68,1)" text-anchor="middle" font-size="32.0" font-weight="normal" fill="#222" stroke="#222" stroke-width="1.47">.</text>
<path d="M180.84,960.80 L180.84,937.89 L179.51,937.89 L178.60,939.84 L177.08,941.76 L175.10,943.26 L175.10,946.02 L176.86,944.80 L178.27,943.26 L179.04,942.24 L179.04,960.80 Z" fill="#222" stroke="#222" stroke-width="1.0" stroke-linejoin="round"/>
<text transform="translate(240.34,960.80) scale(0.68,1)" text-anchor="middle" font-size="32.0" font-weight="normal" fill="#222" stroke="#222" stroke-width="1.47">0</text>
<text transform="translate(250.54,960.80) scale(0.68,1)" text-anchor="middle" font-size="32.0" font-weight="normal" fill="#222" stroke="#222" stroke-width="1.47">.</text>
<text transform="translate(261.54,960.80) scale(0.68,1)" text-anchor="middle" font-size="32.0" font-weight="normal" fill="#222" stroke="#222" stroke-width="1.47">2</text>
<text transform="translate(323.91,960.80) scale(0.68,1)" text-anchor="middle" font-size="32.0" font-weight="normal" fill="#222" stroke="#222" stroke-width="1.47">0</text>
<text transform="translate(334.11,960.80) scale(0.68,1)" text-anchor="middle" font-size="32.0" font-weight="normal" fill="#222" stroke="#222" stroke-width="1.47">.</text>
<text transform="translate(345.11,960.80) scale(0.68,1)" text-anchor="middle" font-size="32.0" font-weight="normal" fill="#222" stroke="#222" stroke-width="1.47">3</text>
<text transform="translate(407.48,960.80) scale(0.68,1)" text-anchor="middle" font-size="32.0" font-weight="normal" fill="#222" stroke="#222" stroke-width="1.47">0</text>
<text transform="translate(417.68,960.80) scale(0.68,1)" text-anchor="middle" font-size="32.0" font-weight="normal" fill="#222" stroke="#222" stroke-width="1.47">.</text>
<text transform="translate(428.68,960.80) scale(0.68,1)" text-anchor="middle" font-size="32.0" font-weight="normal" fill="#222" stroke="#222" stroke-width="1.47">4</text>
<text transform="translate(491.05,960.80) scale(0.68,1)" text-anchor="middle" font-size="32.0" font-weight="normal" fill="#222" stroke="#222" stroke-width="1.47">0</text>
<text transform="translate(501.25,960.80) scale(0.68,1)" text-anchor="middle" font-size="32.0" font-weight="normal" fill="#222" stroke="#222" stroke-width="1.47">.</text>
<text transform="translate(512.25,960.80) scale(0.68,1)" text-anchor="middle" font-size="32.0" font-weight="normal" fill="#222" stroke="#222" stroke-width="1.47">5</text>
<text transform="translate(574.62,960.80) scale(0.68,1)" text-anchor="middle" font-size="32.0" font-weight="normal" fill="#222" stroke="#222" stroke-width="1.47">0</text>
<text transform="translate(584.82,960.80) scale(0.68,1)" text-anchor="middle" font-size="32.0" font-weight="normal" fill="#222" stroke="#222" stroke-width="1.47">.</text>
<text transform="translate(595.82,960.80) scale(0.68,1)" text-anchor="middle" font-size="32.0" font-weight="normal" fill="#222" stroke="#222" stroke-width="1.47">6</text>
<text transform="translate(658.19,960.80) scale(0.68,1)" text-anchor="middle" font-size="32.0" font-weight="normal" fill="#222" stroke="#222" stroke-width="1.47">0</text>
<text transform="translate(668.39,960.80) scale(0.68,1)" text-anchor="middle" font-size="32.0" font-weight="normal" fill="#222" stroke="#222" stroke-width="1.47">.</text>
<text transform="translate(679.39,960.80) scale(0.68,1)" text-anchor="middle" font-size="32.0" font-weight="normal" fill="#222" stroke="#222" stroke-width="1.47">7</text>
<text transform="translate(741.76,960.80) scale(0.68,1)" text-anchor="middle" font-size="32.0" font-weight="normal" fill="#222" stroke="#222" stroke-width="1.47">0</text>
<text transform="translate(751.96,960.80) scale(0.68,1)" text-anchor="middle" font-size="32.0" font-weight="normal" fill="#222" stroke="#222" stroke-width="1.47">.</text>
<text transform="translate(762.96,960.80) scale(0.68,1)" text-anchor="middle" font-size="32.0" font-weight="normal" fill="#222" stroke="#222" stroke-width="1.47">8</text>
<text transform="translate(825.33,960.80) scale(0.68,1)" text-anchor="middle" font-size="32.0" font-weight="normal" fill="#222" stroke="#222" stroke-width="1.47">0</text>
<text transform="translate(835.53,960.80) scale(0.68,1)" text-anchor="middle" font-size="32.0" font-weight="normal" fill="#222" stroke="#222" stroke-width="1.47">.</text>
<text transform="translate(846.53,960.80) scale(0.68,1)" text-anchor="middle" font-size="32.0" font-weight="normal" fill="#222" stroke="#222" stroke-width="1.47">9</text>
<path d="M918.77,960.80 L918.77,937.89 L917.44,937.89 L916.53,939.84 L915.01,941.76 L913.03,943.26 L913.03,946.02 L914.79,944.80 L916.20,943.26 L916.97,942.24 L916.97,960.80 Z" fill="#222" stroke="#222" stroke-width="1.0" stroke-linejoin="round"/>
</g>
<g stroke="#000" stroke-width="1.8" fill="none">
<path d="M512.3,397.5 L331,533.5"/>
</g>
<path d="M313.1,548.5 L329.8,520.4 L332.2,520.4 L331.9,522.6 L330.6,533.9 L339.9,541.2 L339.9,545.9 L326.6,546.3 L326.3,548.5 Z" fill="#000"/>
<path d="M220.6,587.2 Q218.5,585.6 215,586.3 L214.7,592 Q215.3,595 217.4,597.3 C219.6,599.8 219.3,606.5 216,608.7 C213,610.5 209.7,608.4 209.9,603.8 C210.1,599.8 213.2,597 217.2,597.4" fill="none" stroke="#111" stroke-width="1.9" stroke-linejoin="round"/>
<text transform="translate(228.40,608.50) scale(0.75,1)" text-anchor="middle" font-size="32" font-weight="bold" fill="#111">=</text>
<text transform="translate(249.00,608.50) scale(0.7,1)" text-anchor="middle" font-size="32" font-weight="bold" fill="#111">0</text>
<text transform="translate(261.10,608.50) scale(0.7,1)" text-anchor="middle" font-size="32" font-weight="bold" fill="#111">.</text>
<text transform="translate(272.40,608.50) scale(0.7,1)" text-anchor="middle" font-size="32" font-weight="bold" fill="#111">6</text>
<text transform="translate(282.60,608.50) scale(0.7,1)" text-anchor="middle" font-size="32" font-weight="bold" fill="#111">,</text>
<path d="M295.95,608.50 L295.95,585.59 L293.20,585.59 L292.08,587.38 L290.06,589.30 L288.05,590.74 L288.05,594.74 L290.29,593.14 L292.08,591.54 L292.08,608.50 Z" fill="#111"/>
<text transform="translate(303.10,608.50) scale(0.7,1)" text-anchor="middle" font-size="32" font-weight="bold" fill="#111">.</text>
<text transform="translate(315.00,608.50) scale(0.7,1)" text-anchor="middle" font-size="32" font-weight="bold" fill="#111">6</text>
<text transform="translate(324.50,608.50) scale(0.7,1)" text-anchor="middle" font-size="32" font-weight="bold" fill="#111">,</text>
<text transform="translate(335.90,608.50) scale(0.7,1)" text-anchor="middle" font-size="32" font-weight="bold" fill="#111">2</text>
<text transform="translate(345.40,608.50) scale(0.7,1)" text-anchor="middle" font-size="32" font-weight="bold" fill="#111">.</text>
<text transform="translate(357.40,608.50) scale(0.7,1)" text-anchor="middle" font-size="32" font-weight="bold" fill="#111">6</text>
<text transform="translate(366.90,608.50) scale(0.7,1)" text-anchor="middle" font-size="32" font-weight="bold" fill="#111">,</text>
<text transform="translate(378.30,608.50) scale(0.7,1)" text-anchor="middle" font-size="32" font-weight="bold" fill="#111">3</text>
<text transform="translate(387.80,608.50) scale(0.7,1)" text-anchor="middle" font-size="32" font-weight="bold" fill="#111">.</text>
<text transform="translate(399.20,608.50) scale(0.7,1)" text-anchor="middle" font-size="32" font-weight="bold" fill="#111">6</text>
<g fill="none" stroke="#111" stroke-linecap="round" stroke-linejoin="round">
<path d="M465.8,965.5 L465,967.8 C462,971 458.6,974.6 456.4,978.2" stroke-width="1.7"/>
<path d="M456.4,978.2 C455,982 454.3,987 454.7,991 C455.6,993 459,993.6 461.2,994.6 C463.2,995.6 463,998.2 461,999.3 C459.5,1000.1 457.6,1000 456.4,999.6" stroke-width="2.7"/>
<path d="M458.6,1000.5 L458.4,1003.5" stroke-width="1.4" stroke="#555"/>
</g>
<circle cx="465.2" cy="966.6" r="1.7" fill="#111"/>
<g fill="none" stroke="#1a1a1a" stroke-width="1.4" stroke-linecap="round" stroke-linejoin="round">
<ellipse cx="16.2" cy="489.5" rx="5.4" ry="11.6" transform="rotate(-16 16.2 489.5)"/>
<path d="M2.4,481 L27.5,495.4"/>
<path d="M0.8,450.5 Q4.5,457.5 10,460 L28.7,460.6" stroke-width="1.9"/>
<path d="M2.4,423.7 L20.3,423.7 Q26,426 28.5,432"/>
<path d="M4.8,428.5 L4.8,434 L16.7,447.6 Q20,448.5 22.7,445 L25.1,437 L27.5,435.6"/>
</g>
</svg>
</body></html>
